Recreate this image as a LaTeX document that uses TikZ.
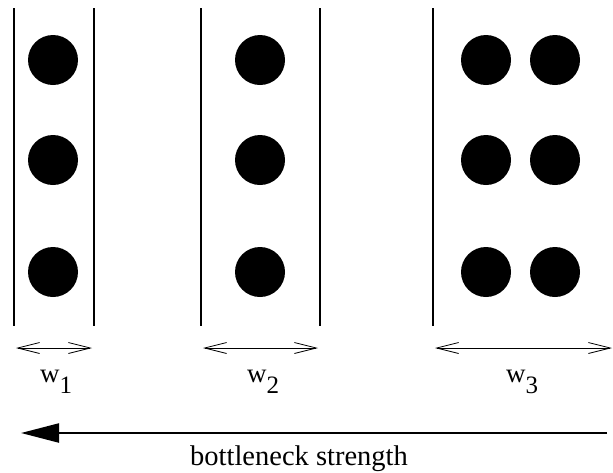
\documentclass[tikz,border=0pt]{standalone}
\usepackage{fontspec}
\setmainfont{Liberation Serif}
\usetikzlibrary{arrows.meta}
\begin{document}
\begin{tikzpicture}[x=1pt,y=-1pt,
  wall/.style={line width=2pt},
  ball/.style={circle,fill=black,minimum size=50pt,inner sep=0pt},
  width/.style={line width=0.8pt,{Straight Barb[length=22pt,width=11pt,line width=0.8pt]}-{Straight Barb[length=22pt,width=11pt,line width=0.8pt]}},
  lbl/.style={font=\fontsize{27}{30}\selectfont,inner sep=0pt}]
\useasboundingbox (0,0) rectangle (613,472);
% walls
\coordinate (a1) at (14,8); \coordinate (a2) at (14,326);
\coordinate (b1) at (94,8); \coordinate (b2) at (94,326);
\coordinate (c1) at (201,8); \coordinate (c2) at (201,326);
\coordinate (d1) at (320,8); \coordinate (d2) at (320,326);
\coordinate (e1) at (433,8); \coordinate (e2) at (433,326);
\draw[wall] (a1) -- (a2);
\draw[wall] (b1) -- (b2);
\draw[wall] (c1) -- (c2);
\draw[wall] (d1) -- (d2);
\draw[wall] (e1) -- (e2);
% balls
\foreach \y [count=\i] in {60,160,272}{
  \node[ball] (p\i) at (53,\y) {};
  \node[ball] (q\i) at (260,\y) {};
  \node[ball] (r\i) at (486,\y) {};
  \node[ball] (s\i) at (555,\y) {};
}
% width arrows
\coordinate (w1l) at (16,348); \coordinate (w1r) at (92,348);
\coordinate (w2l) at (203,348); \coordinate (w2r) at (318,348);
\coordinate (w3l) at (435,348); \coordinate (w3r) at (612,348);
\draw[width] (w1l) -- (w1r);
\draw[width] (w2l) -- (w2r);
\draw[width] (w3l) -- (w3r);
\node[lbl] (t1) at (56,382) {w\raisebox{-11pt}{\fontsize{25}{28}\selectfont 1}};
\node[lbl] (t2) at (263,382) {w\raisebox{-11pt}{\fontsize{25}{28}\selectfont 2}};
\node[lbl] (t3) at (522,382) {w\raisebox{-11pt}{\fontsize{25}{28}\selectfont 3}};
% bottleneck arrow
\coordinate (bs) at (607,433); \coordinate (be) at (21,433);
\draw[line width=2.2pt,-{Triangle[length=38pt,width=19pt]}] (bs) -- (be);
\node[font=\fontsize{28.5}{32}\selectfont,inner sep=0pt] (bl) at (299,459) {bottleneck strength};
\end{tikzpicture}
\end{document}
